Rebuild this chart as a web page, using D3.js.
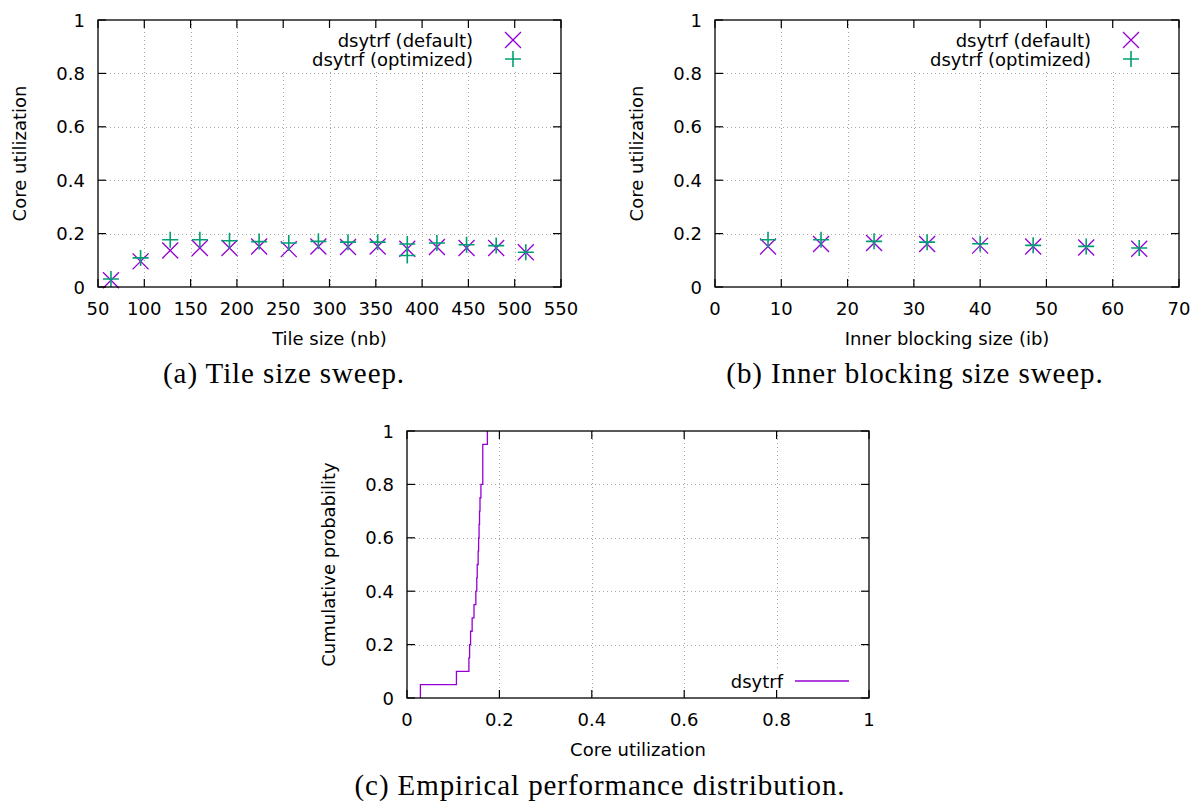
<!DOCTYPE html>
<html>
<head>
<meta charset="utf-8">
<script src="https://cdn.jsdelivr.net/npm/d3@7"></script>
<style>
  html, body { margin: 0; padding: 0; background: #fff; }
  svg { display: block; }
  .tick-label, .axis-title, .key-label { font-family: "DejaVu Sans", sans-serif; fill: #000; }
  .caption { font-family: "Liberation Serif", serif; fill: #000; letter-spacing: 0.9px; }
</style>
</head>
<body>
<svg id="fig" width="1198" height="808"></svg>
<script>
// ---- (a) tile size sweep ----
const tileSizes = [64, 96, 128, 160, 192, 224, 256, 288, 320, 352, 384, 416, 448, 480, 512];
const tileDefault = [0.025, 0.096, 0.137, 0.146, 0.146, 0.152, 0.142, 0.152, 0.150, 0.152, 0.143, 0.150, 0.146, 0.146, 0.130];
const tileOptSizes = [64, 96, 128, 160, 192, 224, 256, 288, 320, 352, 384, 384, 416, 448, 480, 512];
const tileOptimized = [0.030, 0.109, 0.177, 0.177, 0.173, 0.170, 0.165, 0.171, 0.168, 0.168, 0.161, 0.118, 0.165, 0.158, 0.155, 0.130];

// ---- (b) inner blocking size sweep ----
const ibSizes = [8, 16, 24, 32, 40, 48, 56, 64];
const ibDefault = [0.152, 0.161, 0.165, 0.161, 0.155, 0.152, 0.148, 0.143];
const ibOptimized = [0.177, 0.177, 0.171, 0.168, 0.162, 0.156, 0.152, 0.146];

// ---- (c) measured core utilization samples (empirical CDF) ----
const cdfSamples = [0.029, 0.107, 0.134, 0.1355, 0.1376, 0.141, 0.145, 0.149, 0.151, 0.152,
                    0.154, 0.155, 0.156, 0.157, 0.158, 0.160, 0.164, 0.164, 0.164, 0.174];

// tick values
const tileTicks = [50, 100, 150, 200, 250, 300, 350, 400, 450, 500, 550];
const ibTicks = [0, 10, 20, 30, 40, 50, 60, 70];
const unitTicks = [0, 0.2, 0.4, 0.6, 0.8, 1];

const seriesNames = ["dsytrf (default)", "dsytrf (optimized)"];
const cdfName = "dsytrf";
const captions = ["(a) Tile size sweep.", "(b) Inner blocking size sweep.", "(c) Empirical performance distribution."];

const PURPLE = "#9400d3";
const GREEN = "#009e73";
const FONT = 18;
const fmt = d => d3.format("~g")(d);

const svg = d3.select("#fig");
svg.append("rect").attr("width", 1198).attr("height", 808).attr("fill", "#fff");

function drawPanel(box, xDomain, xTicks, yTicks) {
  const x = d3.scaleLinear().domain(xDomain).range([box.left, box.right]);
  const y = d3.scaleLinear().domain([0, 1]).range([box.bottom, box.top]);
  const g = svg.append("g");
  const grid = g.append("g").attr("class", "grid");
  const gridStyle = s => s.attr("stroke", "#a8a8a8").attr("stroke-width", 1).attr("stroke-dasharray", "1,3");
  grid.selectAll("line.vx").data(xTicks.filter(t => t > xDomain[0] && t < xDomain[1])).join("line")
    .attr("x1", d => Math.round(x(d)) + 0.5).attr("x2", d => Math.round(x(d)) + 0.5)
    .attr("y1", box.top).attr("y2", box.bottom).call(gridStyle);
  grid.selectAll("line.hy").data(yTicks.filter(t => t > 0 && t < 1)).join("line")
    .attr("y1", d => Math.round(y(d)) + 0.5).attr("y2", d => Math.round(y(d)) + 0.5)
    .attr("x1", box.left).attr("x2", box.right).call(gridStyle);
  return { x, y, g };
}

function drawFrame(p, box, xTicks, yTicks, xTitle, yTitle, yTitleX) {
  const { x, y, g } = p;
  const tl = 8;
  const ax = g.append("g");
  ax.selectAll("line.tb").data(xTicks).join("line")
    .attr("x1", d => x(d)).attr("x2", d => x(d)).attr("y1", box.bottom).attr("y2", box.bottom - tl)
    .attr("stroke", "#000").attr("stroke-width", 1.2);
  ax.selectAll("line.tt").data(xTicks).join("line")
    .attr("x1", d => x(d)).attr("x2", d => x(d)).attr("y1", box.top).attr("y2", box.top + tl)
    .attr("stroke", "#000").attr("stroke-width", 1.2);
  ax.selectAll("line.tl").data(yTicks).join("line")
    .attr("y1", d => y(d)).attr("y2", d => y(d)).attr("x1", box.left).attr("x2", box.left + tl)
    .attr("stroke", "#000").attr("stroke-width", 1.2);
  ax.selectAll("line.tr").data(yTicks).join("line")
    .attr("y1", d => y(d)).attr("y2", d => y(d)).attr("x1", box.right).attr("x2", box.right - tl)
    .attr("stroke", "#000").attr("stroke-width", 1.2);
  ax.append("rect").attr("x", box.left).attr("y", box.top)
    .attr("width", box.right - box.left).attr("height", box.bottom - box.top)
    .attr("fill", "none").attr("stroke", "#000").attr("stroke-width", 1.3);
  ax.selectAll("text.xl").data(xTicks).join("text").attr("class", "tick-label")
    .attr("x", d => x(d)).attr("y", box.bottom + 21).attr("text-anchor", "middle")
    .attr("dominant-baseline", "central").attr("font-size", FONT).text(fmt);
  ax.selectAll("text.yl").data(yTicks).join("text").attr("class", "tick-label")
    .attr("x", box.left - 13).attr("y", d => y(d)).attr("text-anchor", "end")
    .attr("dominant-baseline", "central").attr("font-size", FONT).text(fmt);
  ax.append("text").attr("class", "axis-title")
    .attr("x", (box.left + box.right) / 2).attr("y", box.bottom + 51)
    .attr("text-anchor", "middle").attr("dominant-baseline", "central").attr("font-size", FONT).text(xTitle);
  const cy = (box.top + box.bottom) / 2;
  ax.append("text").attr("class", "axis-title")
    .attr("transform", `translate(${yTitleX},${cy}) rotate(-90)`)
    .attr("text-anchor", "middle").attr("dominant-baseline", "central").attr("font-size", FONT).text(yTitle);
}

function crossPath(s) { return `M${-s},${-s}L${s},${s}M${-s},${s}L${s},${-s}`; }
function plusPath(s) { return `M${-s},0L${s},0M0,${-s}L0,${s}`; }

function drawPoints(p, xs, ys, kind) {
  const pts = xs.map((v, i) => [v, ys[i]]);
  p.g.append("g").selectAll("path").data(pts).join("path")
    .attr("transform", d => `translate(${p.x(d[0])},${p.y(d[1])})`)
    .attr("d", kind === "x" ? crossPath(8) : plusPath(8))
    .attr("fill", "none")
    .attr("stroke", kind === "x" ? PURPLE : GREEN)
    .attr("stroke-width", kind === "x" ? 1.3 : 1.6);
}

// opaque key box in the top-right corner with marker samples
function drawPointKey(p, box) {
  const textRight = box.right - 88;
  const markerX = box.right - 48;
  const rows = [box.top + 20, box.top + 39];
  const g = p.g.append("g");
  const wide = FONT * 8.945;
  g.append("rect").attr("x", textRight - wide - 32).attr("y", box.top + 2)
    .attr("width", box.right - 2 - (textRight - wide - 32)).attr("height", 48).attr("fill", "#fff");
  seriesNames.forEach((name, i) => {
    g.append("text").attr("class", "key-label").attr("x", textRight).attr("y", rows[i])
      .attr("text-anchor", "end").attr("dominant-baseline", "central").attr("font-size", FONT).text(name);
    g.append("path").attr("transform", `translate(${markerX},${rows[i]})`)
      .attr("d", i === 0 ? crossPath(8) : plusPath(8)).attr("fill", "none")
      .attr("stroke", i === 0 ? PURPLE : GREEN).attr("stroke-width", i === 0 ? 1.3 : 1.6);
  });
  return g;
}

// ---------- panel (a) ----------
const boxA = { left: 98, right: 561, top: 20, bottom: 287 };
const pa = drawPanel(boxA, [50, 550], tileTicks, unitTicks);
drawPointKey(pa, boxA);
drawPoints(pa, tileSizes, tileDefault, "x");
drawPoints(pa, tileOptSizes, tileOptimized, "+");
drawFrame(pa, boxA, tileTicks, unitTicks, "Tile size (nb)", "Core utilization", 19);

// ---------- panel (b) ----------
const boxB = { left: 715, right: 1179, top: 20, bottom: 287 };
const pb = drawPanel(boxB, [0, 70], ibTicks, unitTicks);
drawPointKey(pb, boxB);
drawPoints(pb, ibSizes, ibDefault, "x");
drawPoints(pb, ibSizes, ibOptimized, "+");
drawFrame(pb, boxB, ibTicks, unitTicks, "Inner blocking size (ib)", "Core utilization", 636);

// ---------- panel (c) ----------
const boxC = { left: 407, right: 869, top: 431, bottom: 698 };
const pc = drawPanel(boxC, [0, 1], unitTicks, unitTicks);
{
  const textRight = boxC.right - 86;
  const row = boxC.bottom - 17;
  const kg = pc.g.append("g");
  kg.append("rect").attr("x", textRight - FONT * 2.903 - 32).attr("y", row - 11)
    .attr("width", boxC.right - 2 - (textRight - FONT * 2.903 - 32)).attr("height", 26).attr("fill", "#fff");
  kg.append("text").attr("class", "key-label").attr("x", textRight).attr("y", row)
    .attr("text-anchor", "end").attr("dominant-baseline", "central").attr("font-size", FONT).text(cdfName);
  kg.append("line").attr("x1", boxC.right - 74).attr("x2", boxC.right - 20)
    .attr("y1", row).attr("y2", row).attr("stroke", PURPLE).attr("stroke-width", 1.3);
}
{
  const sorted = cdfSamples.slice().sort(d3.ascending);
  const n = sorted.length;
  const steps = [[sorted[0], 0]].concat(sorted.map((v, i) => [v, (i + 1) / n]));
  const line = d3.line().x(d => pc.x(d[0])).y(d => pc.y(d[1])).curve(d3.curveStepAfter);
  pc.g.append("path").attr("d", line(steps)).attr("fill", "none")
    .attr("stroke", PURPLE).attr("stroke-width", 1.3);
}
drawFrame(pc, boxC, unitTicks, unitTicks, "Core utilization", "Cumulative probability", 328);

// ---------- captions ----------
const capPos = [[284, 373], [915, 373], [600, 785]];
captions.forEach((c, i) => {
  svg.append("text").attr("class", "caption").attr("x", capPos[i][0]).attr("y", capPos[i][1])
    .attr("text-anchor", "middle").attr("dominant-baseline", "central").attr("font-size", 29).text(c);
});
</script>
</body>
</html>
